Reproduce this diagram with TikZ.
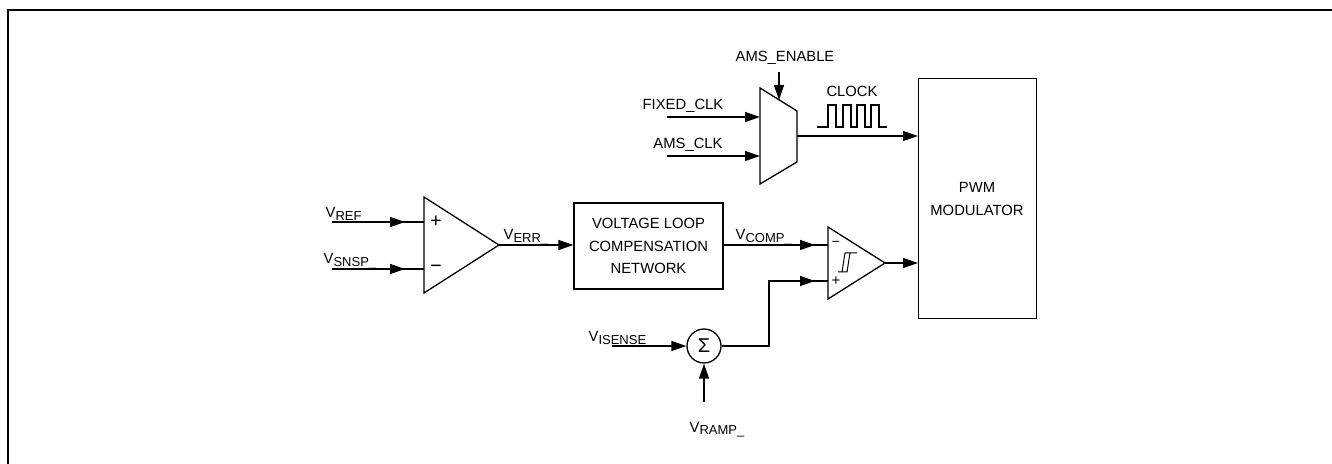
\documentclass[tikz,border=0pt]{standalone}
\usepackage{fontspec}
\setmainfont{Liberation Sans}
\usetikzlibrary{arrows.meta}

% lowered, smaller letters after a V
\newcommand{\lowsub}[1]{\raisebox{-1.2pt}{\fontsize{6.5}{7}\selectfont #1}}

\begin{document}
\begin{tikzpicture}[x=0.5pt, y=-0.5pt, line width=0.65pt,
    font=\fontsize{7.4}{11.2}\selectfont,
    sig/.style={-{Triangle[length=7.5pt, width=5pt]}},
    lead/.style={postaction={draw, sig, shorten >=#1}},
    txt/.style={inner sep=0pt}]
    \useasboundingbox (0,0) rectangle (1332,464);

    % frame, only its left and top sides show
    \draw[line width=1pt] (8,464) -- (8,10) -- (1332,10);

    % Clock multiplexer
    \draw (760,88) -- (797,111) -- (797,162) -- (760,184) -- cycle;
    \coordinate (muxin1) at (760,117);
    \coordinate (muxin2) at (760,156);
    \coordinate (muxsel) at (779,100);
    \coordinate (muxout) at (797,136);

    \node[txt, anchor=base] (amsen) at (785,62) {AMS\_ENABLE};
    \draw[sig, shorten <=3pt] (amsen.south -| muxsel) -- (muxsel);

    \coordinate (fixin) at (667,117);
    \coordinate (amsin) at (667,156);
    \node[txt, anchor=base] (fixlbl) at (683,110) {FIXED\_CLK};
    \node[txt, anchor=base] (amslbl) at (688,149) {AMS\_CLK};
    \draw[sig] (fixin) -- (muxin1);
    \draw[sig] (amsin) -- (muxin2);

    % clock waveform
    \node[txt, anchor=base] (clklbl) at (852,97) {CLOCK};
    \draw (817,127) foreach \r in {828,843,857,871} {
        -- (\r,127) -- (\r,105) -- (\r+8,105) -- (\r+8,127)
    } -- (887,127);

    % PWM modulator
    \node[draw, inner sep=0pt, minimum width=59pt, minimum height=120pt,
          anchor=north west] (pwm) at (918,78) {};
    \node[txt, align=center] (pwmtxt) at (977,199) {PWM\\MODULATOR};
    \draw[sig] (muxout) -- (muxout -| pwm.west);

    % Error amplifier
    \draw (424,197) -- (499,245) -- (424,293) -- cycle;
    \coordinate (eap) at (424,222);
    \coordinate (ean) at (424,269);
    \coordinate (eaout) at (499,245);
    \node[txt] (eaplus) at (436,222) {\fontsize{10}{10}\selectfont +};
    \node[txt] (eaminus) at (436,269) {\fontsize{10}{10}\selectfont −};

    \coordinate (vrefin) at (332,222);
    \coordinate (vsnspin) at (332,269);
    \node[txt, anchor=base west] (vref) at (325,218) {V\lowsub{REF}};
    \node[txt, anchor=base west] (vsnsp) at (323,264) {V\lowsub{SNSP\_}};
    \draw[lead=9.5pt] (vrefin) -- (eap);
    \draw[lead=9.5pt] (vsnspin) -- (ean);

    % Compensation network
    \node[draw, inner sep=0pt, minimum width=74.5pt, minimum height=43pt,
          align=center] (comp) at (648.5,246)
          {VOLTAGE LOOP\\COMPENSATION\\NETWORK};
    \node[txt, anchor=base west] (verr) at (503,240) {V\lowsub{ERR\_}};
    \draw[sig] (eaout) -- (eaout -| comp.west);

    % PWM comparator
    \draw (828,227) -- (885,263) -- (828,299) -- cycle;
    \coordinate (cmpn) at (828,245);
    \coordinate (cmpp) at (828,281);
    \coordinate (cmpout) at (885,263);
    \node[txt] (cmpminus) at (836,244) {\fontsize{7}{7}\selectfont −};
    \node[txt] (cmpplus) at (836,281) {\fontsize{7.5}{7}\selectfont +};
    % hysteresis mark
    \draw[line width=0.5pt] (838,272) -- (847,272) -- (850,253) -- (857,253);
    \draw[line width=0.5pt] (842,272) -- (845,253) -- (850,253);

    \node[txt, anchor=base west] (vcomp) at (735,240) {V\lowsub{COMP\_}};
    \draw[lead=6.5pt] (comp.east |- cmpn) -- (cmpn);
    \draw[sig] (cmpout) -- (cmpout -| pwm.west);

    % Current sense summing node
    \node[draw, circle, inner sep=0pt, minimum size=17pt] (sum) at (704,346)
          {\fontsize{10}{10}\selectfont Σ};
    \coordinate (isensein) at (612,346);
    \coordinate (rampin) at (704,402);
    \node[txt, anchor=base west] (visense) at (588,342) {V\lowsub{ISENSE\_}};
    \node[txt, anchor=base west] (vramp) at (689,432) {V\lowsub{RAMP\_}};
    \draw[sig] (isensein) -- (sum.west);
    \draw[sig] (rampin) -- (sum.south);
    \draw[lead=6.5pt] (sum.east) -- (769,346) |- (cmpp);

\end{tikzpicture}
\end{document}
